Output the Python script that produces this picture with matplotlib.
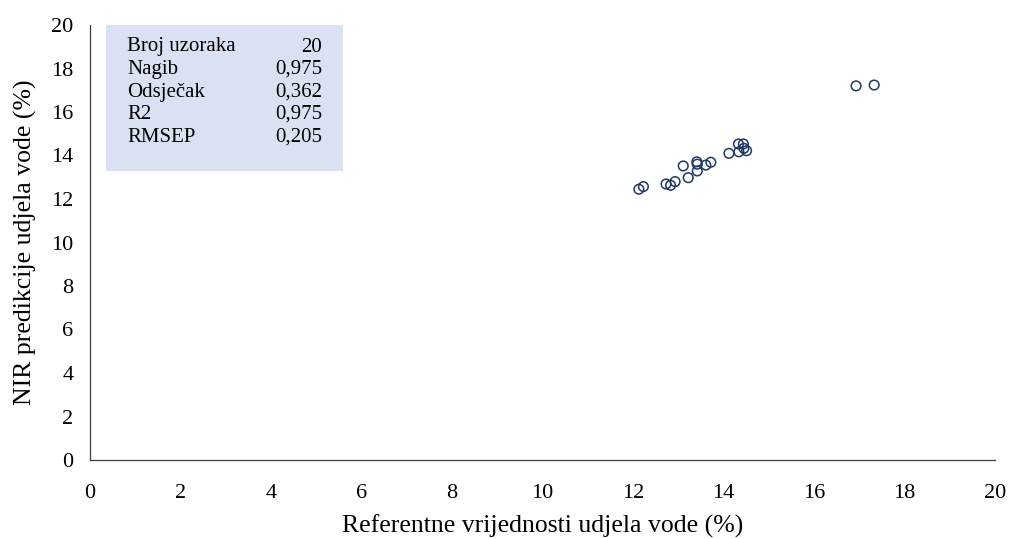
import numpy as np
import matplotlib.pyplot as plt
from matplotlib.patches import Rectangle

plt.rcParams['font.family'] = ['Liberation Serif', 'DejaVu Serif']

ref = [12.13, 12.23, 12.73, 12.83, 12.93, 13.11, 13.22, 13.41, 13.42, 13.42,
       13.61, 13.72, 14.12, 14.33, 14.44, 14.34, 14.45, 14.51, 16.93, 17.33]
pred = [12.45, 12.57, 12.69, 12.63, 12.80, 13.52, 12.98, 13.71, 13.60, 13.29,
        13.56, 13.69, 14.10, 14.53, 14.53, 14.17, 14.33, 14.22, 17.20, 17.24]

stat_names = ['Broj uzoraka', 'Nagib', 'Odsječak', 'R2', 'RMSEP']
stat_values = ['20', '0,975', '0,362', '0,975', '0,205']

fig = plt.figure(figsize=(10.11, 5.39), dpi=100)
ax = fig.add_axes([90/1011, 79/539, 905/1011, 435/539])

ax.scatter(ref, pred, s=48, facecolors='none', edgecolors='#203864', linewidths=1.1, zorder=3)

ax.set_xlim(0, 20)
ax.set_ylim(0, 20)
ax.set_xticks(range(0, 21, 2))
ax.set_yticks(range(0, 21, 2))
ax.tick_params(length=0, labelsize=16)
ax.tick_params(axis='x', pad=17.5)
ax.tick_params(axis='y', pad=12)
for s in ['top', 'right']:
    ax.spines[s].set_visible(False)
for s in ['left', 'bottom']:
    ax.spines[s].set_color('#404040')
    ax.spines[s].set_linewidth(0.9)

ax.set_xlabel('Referentne vrijednosti udjela vode (%)', fontsize=18.5, labelpad=8)
ax.set_ylabel('NIR predikcije udjela vode (%)', fontsize=18.5, labelpad=10)

# stats box
x0 = (106 - 90) / 905
x1 = (343 - 90) / 905
y0 = (460 - 171) / 435
y1 = (460 - 25) / 435
ax.add_patch(Rectangle((x0, y0), x1 - x0, y1 - y0, transform=ax.transAxes,
                       facecolor='#D9E1F2', edgecolor='none', zorder=1, clip_on=False))
for i, (n, v) in enumerate(zip(stat_names, stat_values)):
    yy = (460 - (47 + i * 22.5)) / 435
    ax.text((127 - 90) / 905, yy, n, transform=ax.transAxes, fontsize=15,
            va='center', ha='left', zorder=2)
    ax.text((322 - 90) / 905, yy, v, transform=ax.transAxes, fontsize=15,
            va='center', ha='right', zorder=2)

fig.savefig('out.png', dpi=100)
